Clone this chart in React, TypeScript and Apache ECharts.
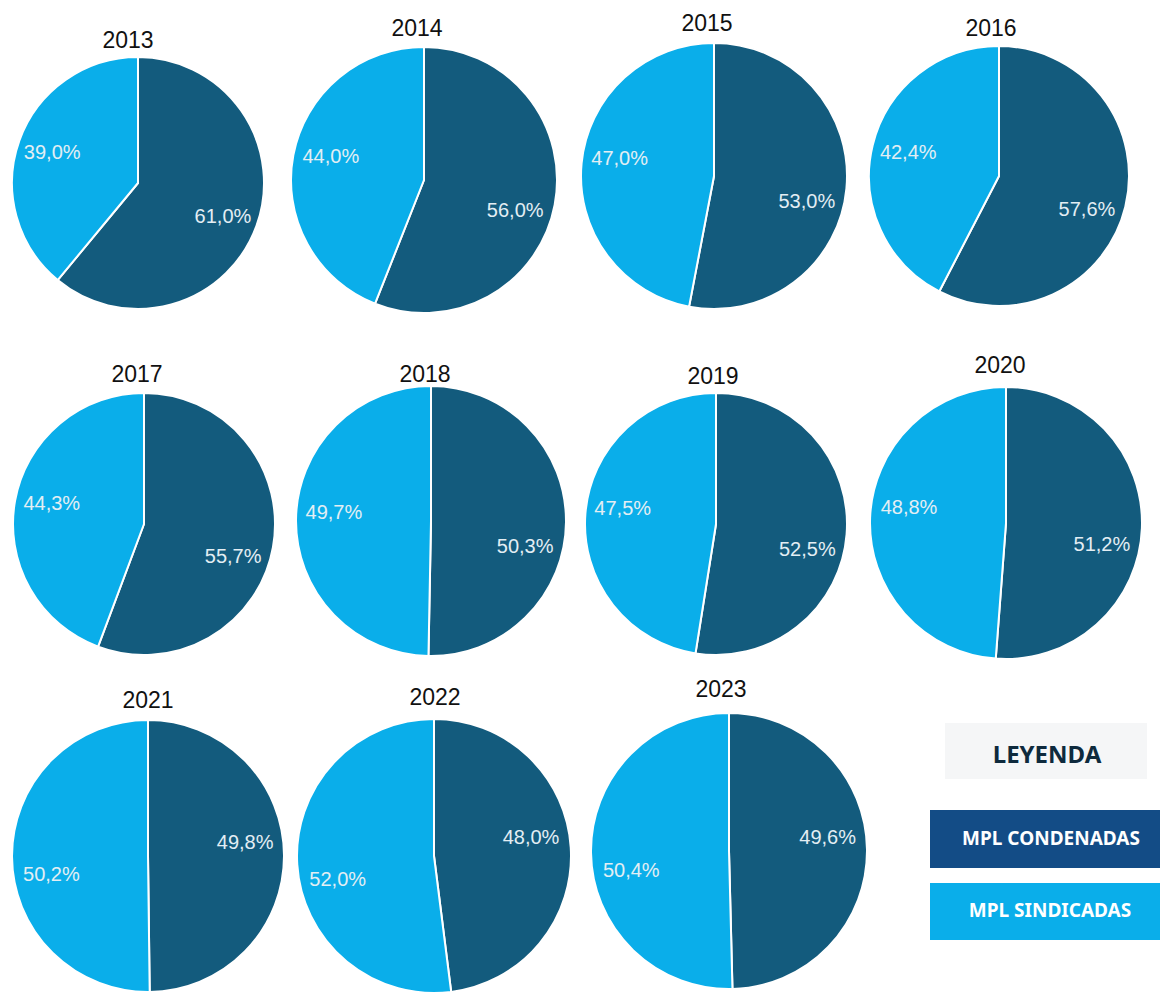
import React, { useEffect, useRef } from "react";
import * as echarts from "echarts";

const years = ["2013", "2014", "2015", "2016", "2017", "2018", "2019", "2020", "2021", "2022", "2023"];
const condenadas = [61.0, 56.0, 53.0, 57.6, 55.7, 50.3, 52.5, 51.2, 49.8, 48.0, 49.6];
const sindicadas = [39.0, 44.0, 47.0, 42.4, 44.3, 49.7, 47.5, 48.8, 50.2, 52.0, 50.4];
const seriesNames = ["MPL CONDENADAS", "MPL SINDICADAS"];

// layout: [cx, cy, r, titleX, titleY]
const layout = [
  [138, 183, 126, 128, 40],
  [424, 180, 133, 417, 28],
  [714, 176, 133, 707, 23],
  [999, 176, 130, 991, 28],
  [144, 524, 131, 137, 374],
  [431, 521, 135, 425, 374],
  [716, 524, 131, 713, 376],
  [1006, 523, 136, 1000, 365],
  [148, 856, 136, 148, 700],
  [434, 856, 137, 435, 697],
  [729, 851, 138, 721, 689],
];

// label angular shift (degrees, clockwise) per pie: [condenadas label, sindicadas label]
const labelShift = [
  [1.5, 0],
  [7.6, 3.4],
  [9.6, 5.6],
  [7, 1.4],
  [9.5, 2.8],
  [14.6, 4.6],
  [10.8, 5.3],
  [10.2, 7],
  [-8, -10],
  [-7.5, -9.6],
  [-7.3, -10.5],
];

const DARK = "#135b7d";
const LIGHT = "#0aaeea";

const fmt = (v: number) => v.toFixed(1).replace(".", ",") + "%";

export default function App() {
  const ref = useRef<HTMLDivElement>(null);
  useEffect(() => {
    if (!ref.current) return;
    const chart = echarts.init(ref.current, null, { renderer: "svg" });
    const series: any[] = [];
    const graphics: any[] = [];
    years.forEach((y, i) => {
      const [cx, cy, r, tx, ty] = layout[i];
      const values = [condenadas[i], sindicadas[i]];
      const colors = [DARK, LIGHT];
      series.push({
        type: "pie",
        name: y,
        center: [cx, cy],
        radius: [0, r],
        startAngle: 90,
        clockwise: true,
        silent: true,
        label: { show: false },
        labelLine: { show: false },
        itemStyle: { borderColor: "#ffffff", borderWidth: 2 },
        data: values.map((v, k) => ({ name: seriesNames[k], value: v, itemStyle: { color: colors[k] } })),
      });
      [0, 1].forEach((k) => {
        series.push({
          type: "pie",
          name: y + "-label-" + k,
          center: [cx, cy],
          radius: [r * 0.4, r],
          startAngle: 90 - labelShift[i][k],
          clockwise: true,
          silent: true,
          itemStyle: { color: "rgba(0,0,0,0)", borderWidth: 0 },
          labelLine: { show: false },
          data: values.map((v, j) => ({
            name: seriesNames[j],
            value: v,
            label: {
              show: j === k,
              position: "inside",
              color: "#e3eef4",
              fontSize: 20,
              fontFamily: "Liberation Sans, Arial, sans-serif",
              formatter: (p: any) => fmt(p.value),
            },
          })),
        });
      });
      graphics.push({
        type: "text",
        x: tx,
        y: ty,
        style: {
          text: y,
          fill: "#111111",
          fontSize: 23,
          fontFamily: "Liberation Sans, Arial, sans-serif",
          align: "center",
          verticalAlign: "middle",
        },
      });
    });

    // legend
    graphics.push(
      { type: "rect", shape: { x: 945, y: 723, width: 202, height: 56 }, style: { fill: "#f5f6f7" } },
      {
        type: "text",
        x: 1047,
        y: 753,
        style: {
          text: "LEYENDA",
          fill: "#0e2a3d",
          fontSize: 24,
          fontWeight: "bold",
          fontFamily: "Noto Sans, sans-serif",
          align: "center",
          verticalAlign: "middle",
        },
      },
      { type: "rect", shape: { x: 930, y: 810, width: 230, height: 58 }, style: { fill: "#134c86" } },
      {
        type: "text",
        x: 1051,
        y: 838,
        style: {
          text: seriesNames[0],
          fill: "#ffffff",
          fontSize: 19,
          fontWeight: "bold",
          fontFamily: "Noto Sans, sans-serif",
          align: "center",
          verticalAlign: "middle",
        },
      },
      { type: "rect", shape: { x: 930, y: 883, width: 230, height: 57 }, style: { fill: LIGHT } },
      {
        type: "text",
        x: 1050,
        y: 910,
        style: {
          text: seriesNames[1],
          fill: "#ffffff",
          fontSize: 19,
          fontWeight: "bold",
          fontFamily: "Noto Sans, sans-serif",
          align: "center",
          verticalAlign: "middle",
        },
      }
    );

    chart.setOption({
      animation: false,
      backgroundColor: "#ffffff",
      series,
      graphic: graphics,
    });
    return () => chart.dispose();
  }, []);
  return (
    <div
      ref={ref}
      style={{ position: "absolute", left: 0, top: 0, width: 1160, height: 993 }}
    />
  );
}
